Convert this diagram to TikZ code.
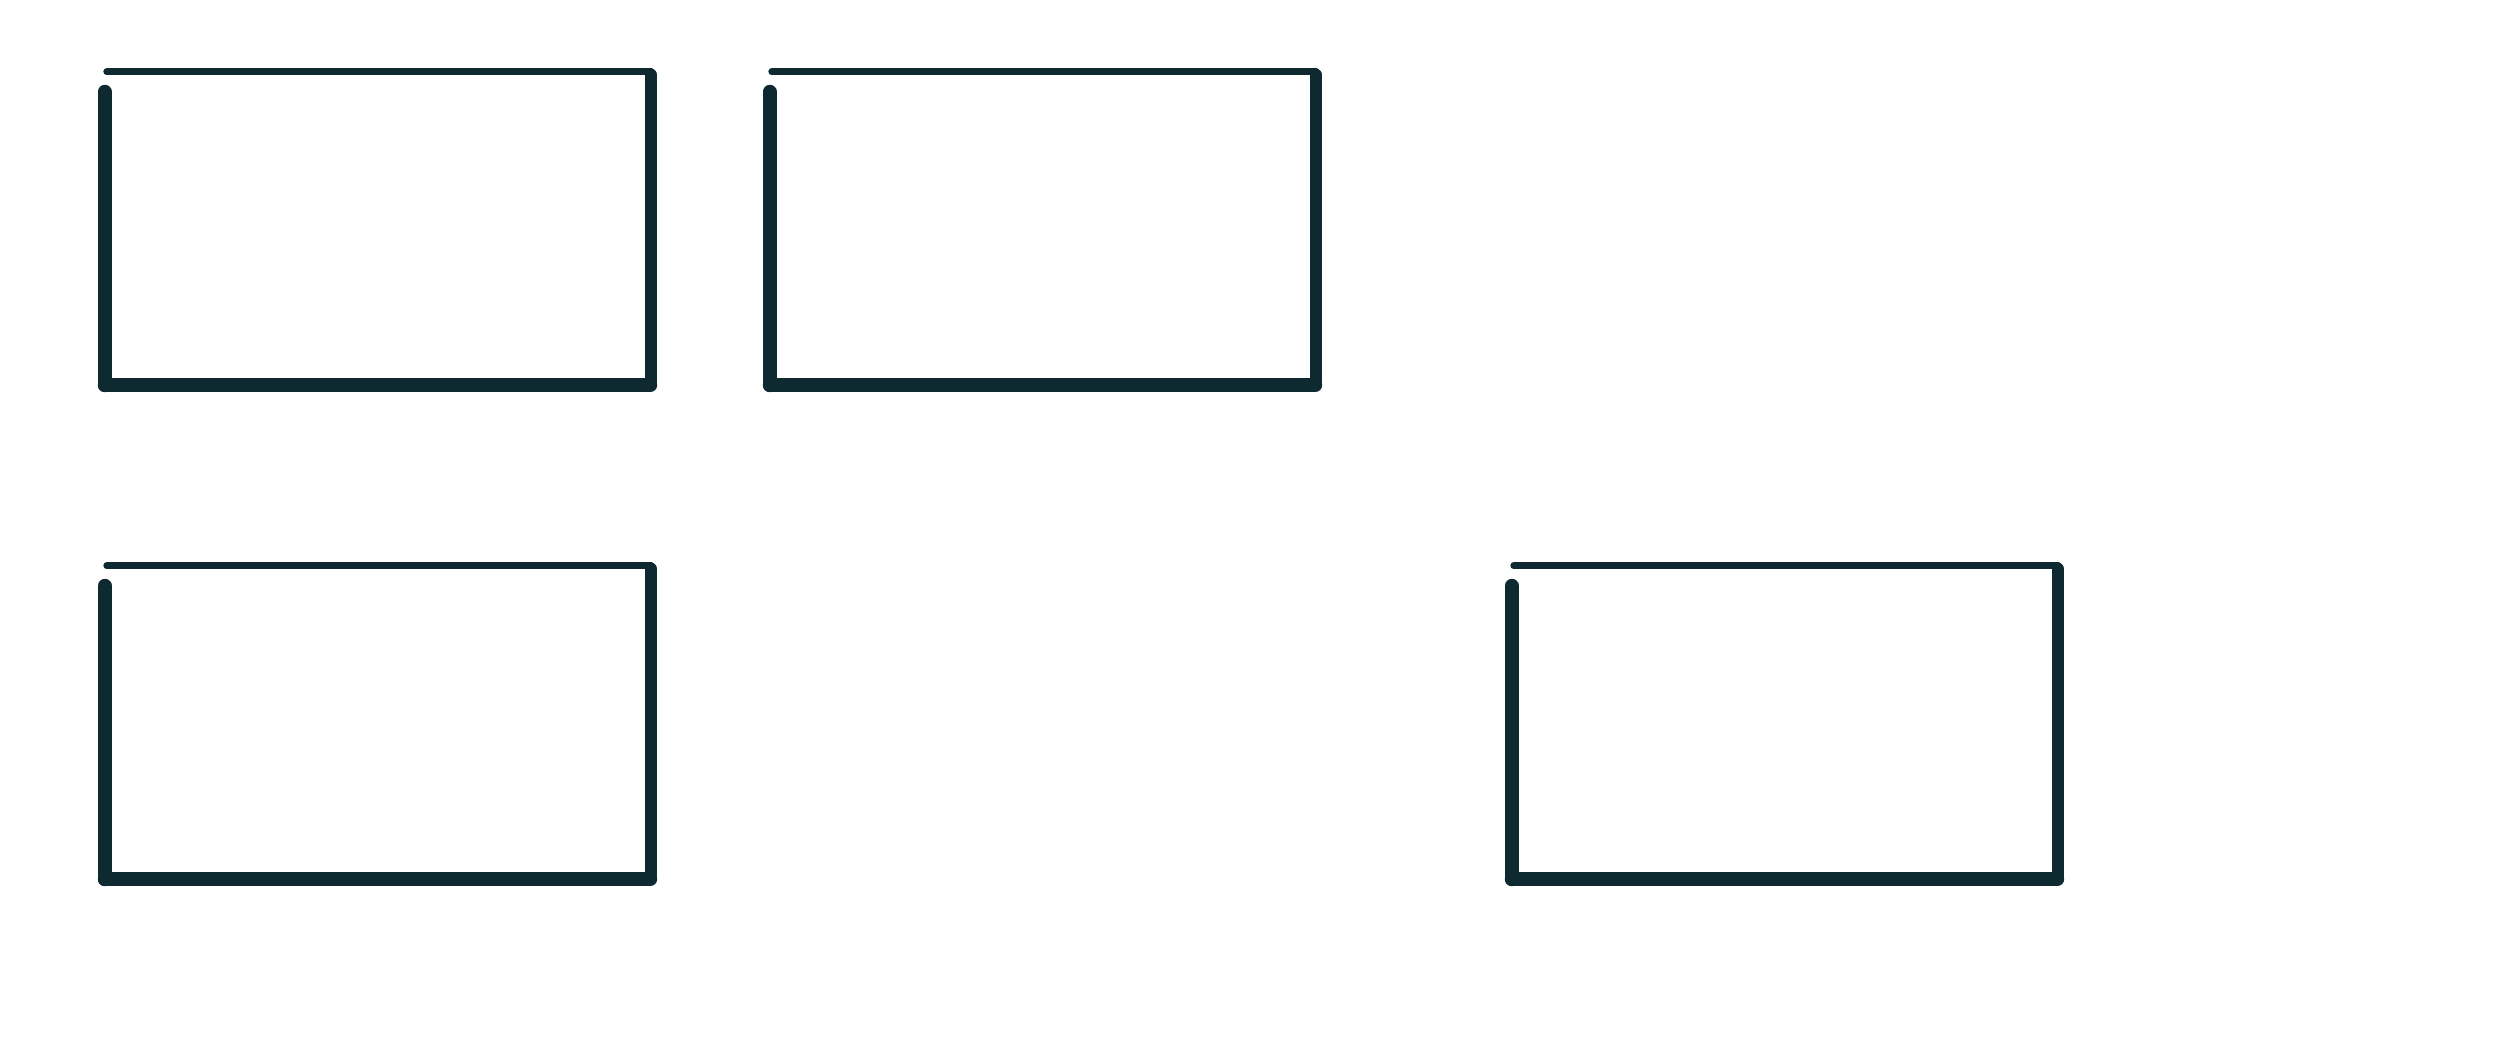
\documentclass[tikz,border=0pt]{standalone}
\definecolor{ink}{RGB}{14,41,47}
\begin{document}
\begin{tikzpicture}[x=1pt,y=-1pt,
  boxarea/.style={draw=none,inner sep=0pt,minimum width=546pt,minimum height=313pt},
  topedge/.style={ink,line width=7pt,line cap=round},
  rightedge/.style={ink,line width=12pt,line cap=round},
  bottomedge/.style={ink,line width=14pt,line cap=round},
  leftedge/.style={ink,line width=14pt,line cap=round}]
\useasboundingbox (0,0) rectangle (2500,1036);
\node[boxarea] (b1) at (378,228.5) {};
\node[boxarea] (b2) at (1043,228.5) {};
\node[boxarea] (b3) at (378,722.5) {};
\node[boxarea] (b4) at (1785,722.5) {};
\foreach \b in {b1,b2,b3,b4}{
  \draw[topedge] ([xshift=2pt]\b.north west) -- (\b.north east);
  \draw[rightedge] ([yshift=-3pt]\b.north east) -- ([yshift=1pt]\b.south east);
  \draw[bottomedge] ([xshift=-1pt]\b.south east) -- (\b.south west);
  \draw[leftedge] (\b.south west) -- ([yshift=-20pt]\b.north west);
}
\end{tikzpicture}
\end{document}
